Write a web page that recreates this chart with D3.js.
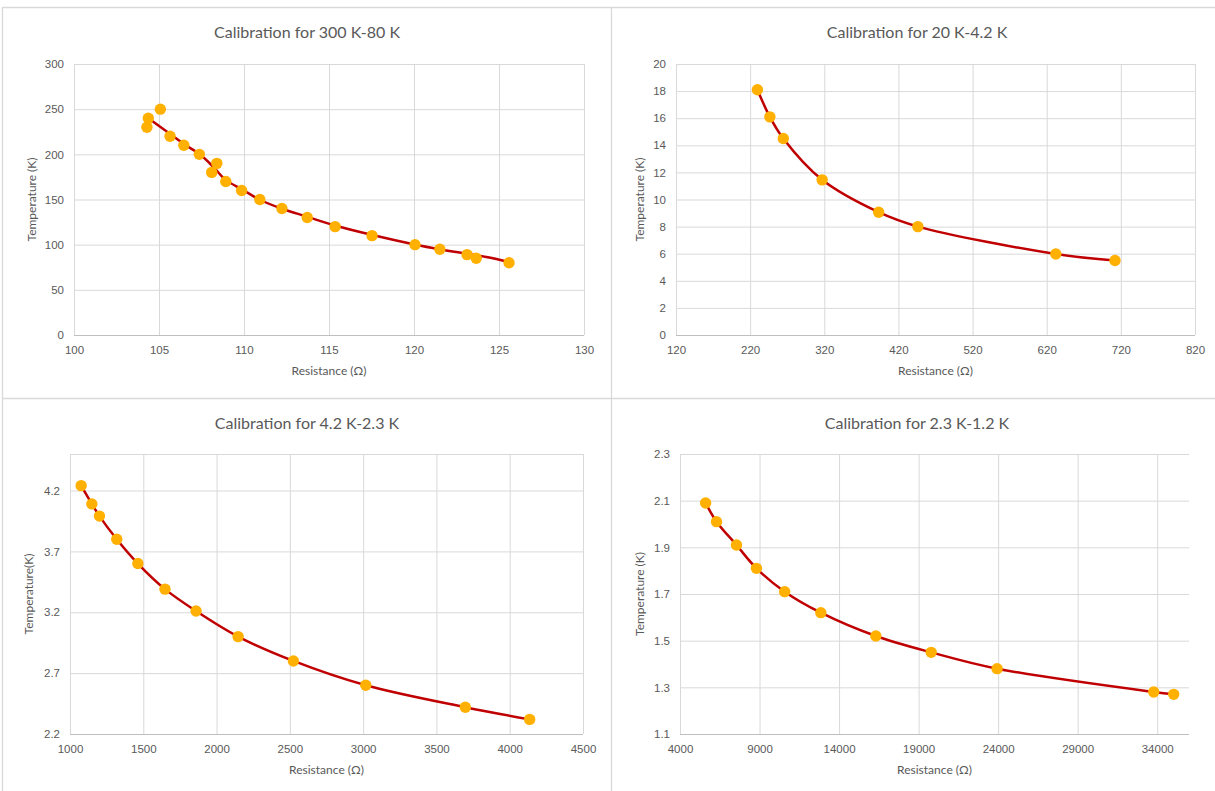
<!DOCTYPE html>
<html>
<head>
<meta charset="utf-8">
<script src="https://cdn.jsdelivr.net/npm/d3@7"></script>
<style>
  body { margin: 0; background: #fff; }
  svg { display: block; font-family: Lato, "Open Sans", sans-serif; }
</style>
</head>
<body>
<svg></svg>
<script>
const width = 1215;
const height = 791;

/* -------------------------
   DATA
--------------------------*/
// 300 K - 80 K
const r1 = [104.29, 104.37, 105.08, 105.65, 106.46, 107.37, 108.40, 108.10, 108.93, 109.86,
            110.93, 112.23, 113.72, 115.36, 117.53, 120.06, 121.52, 123.12, 123.66, 125.59];
const t1 = [230, 240, 250, 220, 210, 200, 190, 180, 170, 160,
            150, 140, 130, 120, 110, 100, 95, 89, 85, 80];
// trend line drawn over the first panel
const fitR1 = [104.6, 105.7, 106.5, 107.4, 108.25, 108.9, 109.9, 110.9, 112.2, 113.7,
               115.4, 117.5, 120.1, 121.5, 123.1, 124.5, 125.6];
const fitT1 = [237, 222, 211, 200, 185, 172, 161, 150, 140, 131,
               121, 111, 100, 95, 90, 85.5, 80.5];

// 20 K - 4.2 K
const r2 = [229.8, 246.6, 264.7, 317.1, 393.3, 446.2, 632.3, 712.1];
const t2 = [18.1, 16.1, 14.5, 11.45, 9.06, 8.0, 5.98, 5.5];

// 4.2 K - 2.3 K
const r3 = [1076, 1149, 1201, 1319, 1463, 1648, 1860, 2147, 2524, 3018, 3697, 4136];
const t3 = [4.24, 4.09, 3.99, 3.8, 3.6, 3.39, 3.21, 3.0, 2.8, 2.6, 2.42, 2.32];

// 2.3 K - 1.2 K
const r4 = [5610, 6296, 7551, 8806, 10581, 12854, 16311, 19791, 23935, 33783, 35038];
const t4 = [2.09, 2.01, 1.91, 1.81, 1.71, 1.62, 1.52, 1.45, 1.38, 1.28, 1.27];

// axis ticks
const xTicks1 = [100, 105, 110, 115, 120, 125, 130];
const yTicks1 = [0, 50, 100, 150, 200, 250, 300];
const xTicks2 = [120, 220, 320, 420, 520, 620, 720, 820];
const yTicks2 = [0, 2, 4, 6, 8, 10, 12, 14, 16, 18, 20];
const xTicks3 = [1000, 1500, 2000, 2500, 3000, 3500, 4000, 4500];
const yTicks3 = [2.2, 2.7, 3.2, 3.7, 4.2];
const xTicks4 = [4000, 9000, 14000, 19000, 24000, 29000, 34000];
const yTicks4 = [1.1, 1.3, 1.5, 1.7, 1.9, 2.1, 2.3];

const titles = [
  "Calibration for 300 K-80 K",
  "Calibration for 20 K-4.2 K",
  "Calibration for 4.2 K-2.3 K",
  "Calibration for 2.3 K-1.2 K"
];

/* -------------------------
   STYLE
--------------------------*/
const GRID = "#d9d9d9";
const TEXT = "#595959";
const LINE = "#c00000";
const DOT = "#ffb000";

const svg = d3.select("svg")
  .attr("width", width)
  .attr("height", height);

/* chart frames */
const frame = svg.append("g")
  .attr("fill", "none")
  .attr("stroke", GRID)
  .attr("stroke-width", 1.3);
frame.append("line").attr("x1", 2).attr("x2", width).attr("y1", 7.5).attr("y2", 7.5);
frame.append("line").attr("x1", 2.5).attr("x2", 2.5).attr("y1", 7).attr("y2", height);
frame.append("line").attr("x1", 611.5).attr("x2", 611.5).attr("y1", 7).attr("y2", height);
frame.append("line").attr("x1", 2).attr("x2", width).attr("y1", 398.5).attr("y2", 398.5);

/* -------------------------
   PANELS
--------------------------*/
const plain = d => String(d);
const oneDec = d3.format(".1f");

const panels = [
  { r: r1, t: t1, fitR: fitR1, fitT: fitT1, xd: [100, 130], yd: [0, 300], xt: xTicks1, yt: yTicks1,
    box: [74, 584, 64, 335], titleX: 307, titleY: 34, yLab: "Temperature (K)", yLabX: 33, fmt: plain },
  { r: r2, t: t2, xd: [120, 820], yd: [0, 20], xt: xTicks2, yt: yTicks2,
    box: [676, 1195, 64, 335], titleX: 917, titleY: 34, yLab: "Temperature (K)", yLabX: 641, fmt: plain },
  { r: r3, t: t3, xd: [1000, 4500], yd: [2.2, 4.5], xt: xTicks3, yt: yTicks3, topGrid: true,
    box: [70, 583, 454, 734], titleX: 307, titleY: 425, yLab: "Temperature(K)", yLabX: 30, fmt: oneDec },
  { r: r4, t: t4, xd: [4000, 36000], yd: [1.1, 2.3], xt: xTicks4, yt: yTicks4,
    box: [680, 1189, 454, 734], titleX: 917, titleY: 425, yLab: "Temperature (K)", yLabX: 641, fmt: oneDec }
];

panels.forEach((p, i) => {
  const [x0, x1, y0, y1] = p.box;
  const x = d3.scaleLinear().domain(p.xd).range([x0, x1]);
  const y = d3.scaleLinear().domain(p.yd).range([y1, y0]);
  const g = svg.append("g");

  // title
  g.append("text")
    .attr("x", p.titleX)
    .attr("y", p.titleY)
    .attr("text-anchor", "middle")
    .attr("dominant-baseline", "middle")
    .style("fill", TEXT)
    .style("font-size", "16px")
    .text(titles[i]);

  // horizontal grid + y labels
  const yAxis = d3.axisLeft(y).tickValues(p.yt).tickSize(-(x1 - x0)).tickPadding(10).tickFormat(p.fmt);
  const ya = g.append("g").attr("transform", `translate(${x0},0)`).call(yAxis);
  ya.select(".domain").remove();
  ya.selectAll(".tick line").attr("stroke", GRID);
  ya.selectAll(".tick text").style("fill", TEXT).style("font-size", "11.5px").style("font-family", "inherit");
  if (p.topGrid) {
    g.append("line").attr("x1", x0).attr("x2", x1).attr("y1", y0 + 0.5).attr("y2", y0 + 0.5).attr("stroke", GRID);
  }

  // vertical grid + x labels
  const xAxis = d3.axisBottom(x).tickValues(p.xt).tickSize(-(y1 - y0)).tickPadding(11).tickFormat(plain);
  const xa = g.append("g").attr("transform", `translate(0,${y1})`).call(xAxis);
  xa.select(".domain").attr("stroke", "#bfbfbf").attr("d", `M${x0},0.5H${x1}`);
  xa.selectAll(".tick line").attr("stroke", GRID);
  xa.selectAll(".tick text").style("fill", TEXT).style("font-size", "11.5px").style("font-family", "inherit");

  // axis titles
  g.append("text")
    .attr("x", (x0 + x1) / 2)
    .attr("y", y1 + 40)
    .attr("text-anchor", "middle")
    .style("fill", TEXT)
    .style("font-size", "12px")
    .text("Resistance (Ω)");

  g.append("text")
    .attr("transform", `translate(${p.yLabX},${(y0 + y1) / 2}) rotate(-90)`)
    .attr("text-anchor", "middle")
    .attr("dominant-baseline", "middle")
    .style("fill", TEXT)
    .style("font-size", "12px")
    .text(p.yLab);

  // curve
  const lineR = p.fitR || p.r;
  const lineT = p.fitT || p.t;
  const pts = lineR.map((v, k) => [x(v), y(lineT[k])]);
  g.append("path")
    .attr("d", d3.line().curve(d3.curveCatmullRom.alpha(0.5))(pts))
    .attr("fill", "none")
    .attr("stroke", LINE)
    .attr("stroke-width", 2.5);

  // markers
  g.append("g")
    .selectAll("circle")
    .data(p.r.map((v, k) => ({ r: v, t: p.t[k] })))
    .enter()
    .append("circle")
    .attr("cx", d => x(d.r))
    .attr("cy", d => y(d.t))
    .attr("r", 5.7)
    .attr("fill", DOT);
});
</script>
</body>
</html>
